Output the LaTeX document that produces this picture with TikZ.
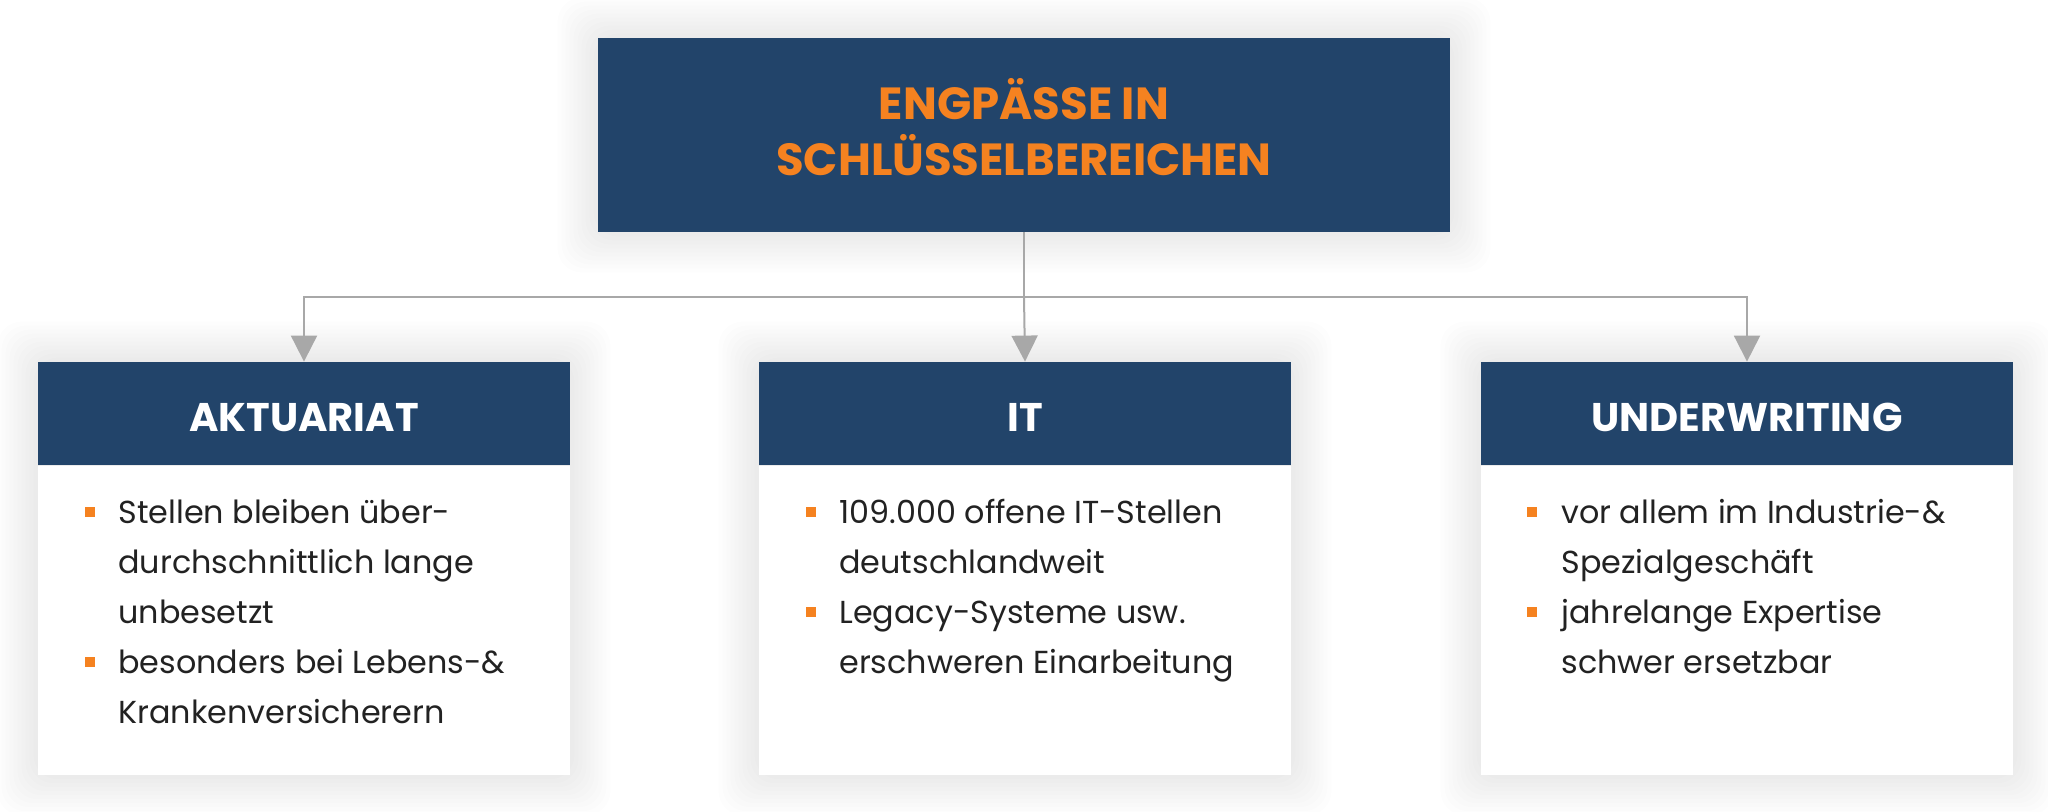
\documentclass[tikz,border=0pt]{standalone}
\usepackage{fontspec}
\setmainfont{Poppins}
\usepackage{tikz}
\usetikzlibrary{positioning, arrows.meta, backgrounds}
\definecolor{navy}{HTML}{22446A}
\definecolor{engorange}{HTML}{F58220}
\definecolor{linegray}{HTML}{A8A8A8}
\definecolor{bodytext}{HTML}{222222}
\tikzset{
        titlebox/.style={fill=navy, minimum width=426pt, minimum height=97pt, text=engorange, align=center, text depth=8pt, font=\bfseries\fontsize{22.5}{28}\selectfont}, % the top box
        headbox/.style={fill=navy, minimum width=266pt, minimum height=51.5pt, text=white, text height=17.5pt, text depth=0pt, font=\bfseries\fontsize{20}{22}\selectfont},
        bodybox/.style={fill=white, minimum width=266pt, minimum height=154.5pt, inner sep=0pt},
        item/.style={anchor=base west, inner sep=0pt, align=left, text=bodytext, font=\fontsize{15.9}{25}\selectfont}, % anchored at the last line
        bullet/.style={fill=engorange, minimum size=5pt, inner sep=0pt},
        link/.style={draw=linegray, line width=1pt},
        glow/.style={fill=black, opacity=0.006, rounded corners=12pt},
    }

\begin{document}
\begin{tikzpicture}[x=0.5pt, y=-0.5pt]
    \useasboundingbox (0,0) rectangle (2048,812);

    % boxes
    \node[titlebox] (title) at (1024,135) {ENGPÄSSE IN\\SCHLÜSSELBEREICHEN};
    \node[headbox] (akt) at (304,413.5) {AKTUARIAT};
    \node[headbox] (it) at (1025,413.5) {IT};
    \node[headbox] (uw) at (1747,413.5) {UNDERWRITING};
    \node[bodybox, below=0pt of akt] (aktbody) {};
    \node[bodybox, below=0pt of it] (itbody) {};
    \node[bodybox, below=0pt of uw] (uwbody) {};

    % soft shadows
    \begin{scope}[on background layer]
    \fill[white] (0,0) rectangle (2048,812);
    \foreach \r in {4,8,...,40} {
        \fill[glow] ([shift={(-\r,-\r)}]title.north west) rectangle ([shift={(\r,\r)}]title.south east);
        \fill[glow] ([shift={(-\r,-\r)}]akt.north west) rectangle ([shift={(\r,\r)}]aktbody.south east);
        \fill[glow] ([shift={(-\r,-\r)}]it.north west) rectangle ([shift={(\r,\r)}]itbody.south east);
        \fill[glow] ([shift={(-\r,-\r)}]uw.north west) rectangle ([shift={(\r,\r)}]uwbody.south east);
    }
    \end{scope}

    % connectors
    \coordinate (fork) at (title.south |- 0,297);
    \draw[link] (title.south) -- (fork);
    \draw[link, -{Triangle[length=13pt, width=13pt]}] (fork) -| (akt.north);
    \draw[link, -{Triangle[length=13pt, width=13pt]}] (fork) -- (it.north);
    \draw[link, -{Triangle[length=13pt, width=13pt]}] (fork) -| (uw.north);

    % bullet points
    \node[item] (akt1) at (118,623) {Stellen bleiben über-\\durchschnittlich lange\\unbesetzt};
    \node[item] (akt2) at (118,723) {besonders bei Lebens-\&\\Krankenversicherern};
    \node[item] (it1) at (839,573) {109.000 offene IT-Stellen\\deutschlandweit};
    \node[item] (it2) at (839,673) {Legacy-Systeme usw.\\erschweren Einarbeitung};
    \node[item] (uw1) at (1561,573) {vor allem im Industrie-\&\\Spezialgeschäft};
    \node[item] (uw2) at (1561,673) {jahrelange Expertise\\schwer ersetzbar};
    \node[bullet] at (90,512) {};
    \node[bullet] at (90,662) {};
    \node[bullet] at (811,512) {};
    \node[bullet] at (811,612) {};
    \node[bullet] at (1532,512) {};
    \node[bullet] at (1532,612) {};
\end{tikzpicture}
\end{document}
